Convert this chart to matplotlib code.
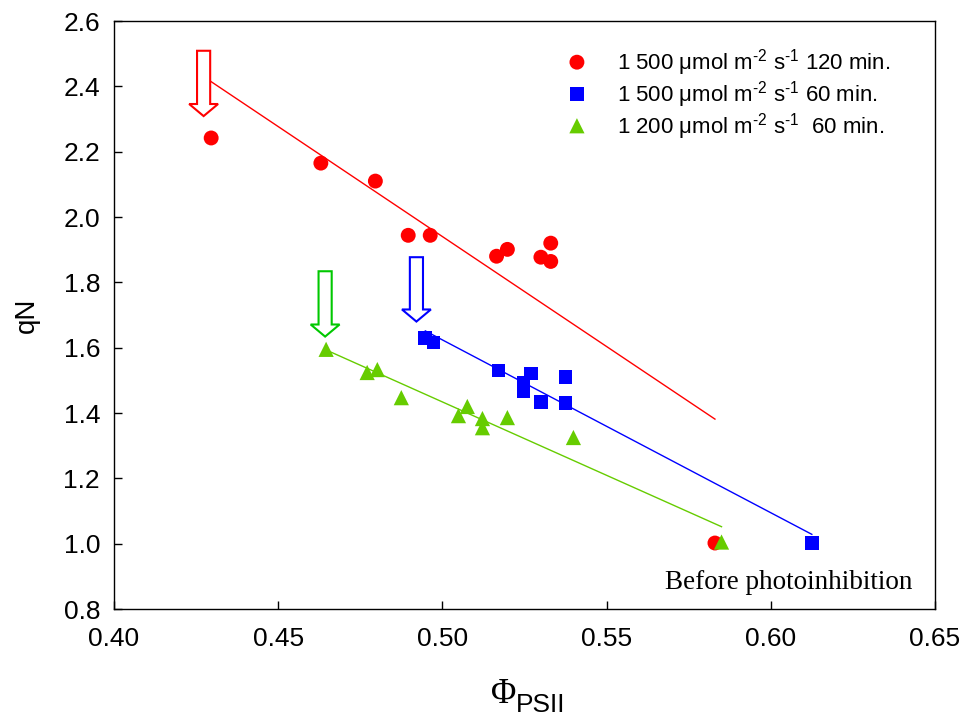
import numpy as np
import matplotlib
matplotlib.use("Agg")
import matplotlib.pyplot as plt
from matplotlib.patches import FancyArrow

plt.rcParams['font.family'] = ['Liberation Sans', 'DejaVu Sans']
plt.rcParams['mathtext.fontset'] = 'custom'
plt.rcParams['mathtext.rm'] = 'Liberation Sans'
plt.rcParams['mathtext.it'] = 'Liberation Sans'

# data
red_x = [0.4296, 0.463, 0.4796, 0.4896, 0.4963, 0.5165, 0.5198, 0.530, 0.533, 0.533, 0.583]
red_y = [2.242, 2.165, 2.110, 1.944, 1.944, 1.880, 1.901, 1.877, 1.920, 1.864, 1.002]
blue_x = [0.4948, 0.4973, 0.5171, 0.5271, 0.5247, 0.5247, 0.5299, 0.5375, 0.5375, 0.6125]
blue_y = [1.631, 1.616, 1.530, 1.521, 1.493, 1.466, 1.435, 1.509, 1.432, 1.002]
green_x = [0.4646, 0.4771, 0.4802, 0.4875, 0.5049, 0.5076, 0.5122, 0.5122, 0.5198, 0.5399, 0.585]
green_y = [1.595, 1.524, 1.533, 1.447, 1.392, 1.420, 1.383, 1.355, 1.386, 1.325, 1.005]

labels = [r'1 500 $\mu$mol m$^{\text{-2}}$ s$^{\text{-1}}$ 120 min.',
          r'1 500 $\mu$mol m$^{\text{-2}}$ s$^{\text{-1}}$ 60 min.',
          r'1 200 $\mu$mol m$^{\text{-2}}$ s$^{\text{-1}}$  60 min.']

# arrows: x position, top, tip
arrow_x = [0.4273, 0.4921, 0.4643]
arrow_top = [2.509, 1.877, 1.834]
arrow_tip = [2.309, 1.680, 1.634]
arrow_cols = ['#ff0000', '#0000ff', '#00c800']

fig = plt.figure(figsize=(9.69, 7.18), dpi=100)
ax = fig.add_axes([0.1176, 0.1518, 0.8473, 0.8189])

series = [(red_x, red_y, 'o', '#ff0000', 115),
          (blue_x, blue_y, 's', '#0000ff', 100),
          (green_x, green_y, '^', '#66cc00', 120)]

for (xs, ys, m, c, s), lab in zip(series, labels):
    xs = np.array(xs)
    ys = np.array(ys)
    k, b = np.polyfit(xs, ys, 1)
    xx = np.array([xs.min(), xs.max()])
    ax.plot(xx, k * xx + b, color=c, lw=1.0, zorder=2)
    ax.scatter(xs, ys, marker=m, s=s, color=c, edgecolors='none', label=lab, zorder=3)

for x, top, tip, c in zip(arrow_x, arrow_top, arrow_tip, arrow_cols):
    ax.add_patch(FancyArrow(x, top, 0, tip - top, width=0.0040, head_width=0.0088,
                            head_length=0.037, length_includes_head=True,
                            fill=False, edgecolor=c, lw=1.5, zorder=4))

ax.text(0.6056, 0.882, 'Before photoinhibition', family='Liberation Serif',
        fontsize=19.5, ha='center', va='center')

ax.set_xlim(0.40, 0.65)
ax.set_ylim(0.8, 2.6)
ax.set_xticks(np.arange(0.40, 0.651, 0.05))
ax.set_yticks(np.arange(0.8, 2.61, 0.2))
ax.xaxis.set_major_formatter(plt.FormatStrFormatter('%.2f'))
ax.yaxis.set_major_formatter(plt.FormatStrFormatter('%.1f'))
ax.tick_params(direction='in', length=5.5, width=1.0, labelsize=19)
ax.tick_params(axis='x', pad=13)
ax.tick_params(axis='y', pad=10)
for sp in ax.spines.values():
    sp.set_linewidth(1.0)

ax.set_ylabel('qN', fontsize=20)
ax.yaxis.set_label_coords(-0.09, 0.5)

# x label: serif Phi with sans subscript
fig.text(516 / 969, 15 / 718, '\u03a6', family='Liberation Serif', fontsize=25,
         ha='right', va='baseline')
fig.text(516 / 969, 6 / 718, 'PSII', fontsize=19, ha='left', va='baseline')

ax.legend(loc='upper left', bbox_to_anchor=(0.526, 0.970), frameon=False, fontsize=16,
          handlelength=2.0, handletextpad=0.8, labelspacing=0.04, borderaxespad=0.0,
          scatteryoffsets=[0.5])

fig.savefig('out.png', dpi=100)
